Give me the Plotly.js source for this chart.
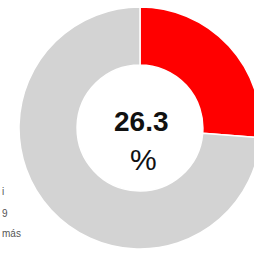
<!DOCTYPE html>
<html>
<head>
<meta charset="utf-8">
<script src="https://cdn.plot.ly/plotly-3.0.1.min.js"></script>
<style>
html,body{margin:0;padding:0;overflow:hidden;background:#fff;width:254px;height:254px;}
#chart{width:280px;height:254px;}
</style>
</head>
<body>
<div id="chart"></div>
<script>
const categories = ["Sí", "No"];
const values = [26.3, 73.7];
const sliceColors = ["#ff0000", "#d3d3d3"];
const centerValue = "26.3";
const centerUnit = "%";
const legendFragments = ["i", "9", "más"];

const W = 280, H = 254;
const cx = 140, cy = 128, R = 121;

const data = [{
  type: "pie",
  labels: categories,
  values: values,
  hole: 0.52,
  sort: false,
  direction: "clockwise",
  rotation: 0,
  textinfo: "none",
  hoverinfo: "none",
  marker: {colors: sliceColors, line: {color: "#ffffff", width: 1.5}},
  domain: {x: [(cx - R) / W, (cx + R) / W], y: [(H - cy - R) / H, (H - cy + R) / H]},
  showlegend: false
}];

const annotations = [
  {text: "<b>" + centerValue + "</b>", x: 141 / W, y: 1 - 121 / H, xref: "paper", yref: "paper",
   showarrow: false, font: {family: "Liberation Sans, Arial, sans-serif", size: 28, color: "#111"}, xanchor: "center", yanchor: "middle"},
  {text: centerUnit, x: 143 / W, y: 1 - 159 / H, xref: "paper", yref: "paper",
   showarrow: false, font: {family: "Liberation Sans, Arial, sans-serif", size: 30, color: "#111"}, xanchor: "center", yanchor: "middle"}
];
const fragY = [191, 213, 233];
legendFragments.forEach((t, i) => {
  annotations.push({text: t, x: 0, y: 1 - fragY[i] / H, xref: "paper", yref: "paper", showarrow: false,
    xanchor: "left", yanchor: "middle", font: {family: "Liberation Sans, Arial, sans-serif", size: 10, color: "#555"}});
});

Plotly.newPlot("chart", data, {
  width: W, height: H,
  margin: {l: 0, r: 0, t: 0, b: 0, pad: 0},
  paper_bgcolor: "#ffffff",
  annotations: annotations
}, {staticPlot: true, displayModeBar: false});
</script>
</body>
</html>
